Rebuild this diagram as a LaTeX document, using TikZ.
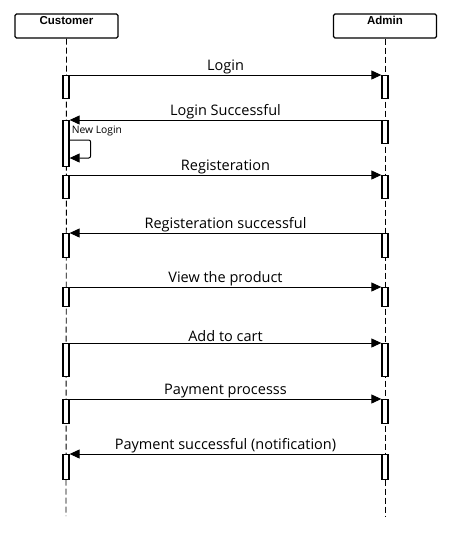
\documentclass[tikz,border=0pt]{standalone}
\usepackage{fontspec}
\setmainfont{Open Sans}
\newfontfamily\headfont{Liberation Sans}
\usetikzlibrary{arrows.meta,calc}
\tikzset{
  headbox/.style={draw, line width=1.4pt, rounded corners=1.5pt, minimum width=103pt,
    inner ysep=2pt, text height=8.5pt, text depth=11.5pt, font=\headfont\bfseries\fontsize{11.5}{13}\selectfont},
  life/.style={dashed, dash pattern=on 6pt off 3pt, line width=0.9pt},
  act/.style={draw, fill=white, line width=1.3pt, minimum width=6pt, inner sep=0pt, anchor=north},
  tip/.style={-{Triangle[length=10pt,width=9pt]}},
  msg/.style={line width=1pt, tip},
  lbl/.style={font=\fontsize{14.5}{16}\selectfont, inner sep=0.5pt},
}
\begin{document}
\begin{tikzpicture}[x=1pt,y=-1pt]
\useasboundingbox (0,0) rectangle (450,550);
% headers
\node[headbox] (cust) at (66.5,26) {Customer};
\node[headbox] (adm) at (385,26) {Admin};
\coordinate (custend) at (66,516);
\coordinate (admend) at (385,516);
\draw[life] (cust.south) -- (custend);
\draw[life] (adm.south) -- (admend);
% activation boxes
\node[act, minimum height=23pt] (c1) at (66,75) {};
\node[act, minimum height=23pt] (a1) at (385,75) {};
\node[act, minimum height=46pt] (c2) at (66,120) {};
\node[act, minimum height=23pt] (a2) at (385,120) {};
\node[act, minimum height=23pt] (c3) at (66,175) {};
\node[act, minimum height=23pt] (a3) at (385,175) {};
\node[act, minimum height=24pt] (c4) at (66,233) {};
\node[act, minimum height=24pt] (a4) at (385,233) {};
\node[act, minimum height=19pt] (c5) at (66,287) {};
\node[act, minimum height=19pt] (a5) at (385,287) {};
\node[act, minimum height=33pt] (c6) at (66,343) {};
\node[act, minimum height=33pt] (a6) at (385,343) {};
\node[act, minimum height=24pt] (c7) at (66,399) {};
\node[act, minimum height=24pt] (a7) at (385,399) {};
\node[act, minimum height=25pt] (c8) at (66,454) {};
\node[act, minimum height=25pt] (a8) at (385,454) {};
% messages
\draw[msg] (c1.north east) -- node[lbl, above=0.5pt] (l1) {Login} (a1.north west);
\draw[msg] (a2.north west) -- node[lbl, above=0.5pt] (l2) {Login Successful} (c2.north east);
\draw[msg] (c3.north east) -- node[lbl, above=0.5pt] (l3) {Registeration} (a3.north west);
\draw[msg] (a4.north west) -- node[lbl, above=0.5pt] (l4) {Registeration successful} (c4.north east);
\draw[msg] (c5.north east) -- node[lbl, above=0.5pt] (l5) {View the product} (a5.north west);
\draw[msg] (c6.north east) -- node[lbl, above=0.5pt] (l6) {Add to cart} (a6.north west);
\draw[msg] (c7.north east) -- node[lbl, above=0.5pt] (l7) {Payment processs} (a7.north west);
\draw[msg] (a8.north west) -- node[lbl, above=0.5pt] (l8) {Payment successful (notification)} (c8.north east);
% self message
\node[font=\fontsize{10.3}{12}\selectfont, anchor=west, inner sep=0pt] (nl) at ($(c2.north east)+(2,11)$) {New Login};
\coordinate (s1) at ($(c2.north east)+(0,20)$);
\coordinate (s2) at ($(c2.north east)+(0,38)$);
\draw[msg, rounded corners=2pt] (s1) -- ++(21,0) |- (s2);
\end{tikzpicture}
\end{document}
